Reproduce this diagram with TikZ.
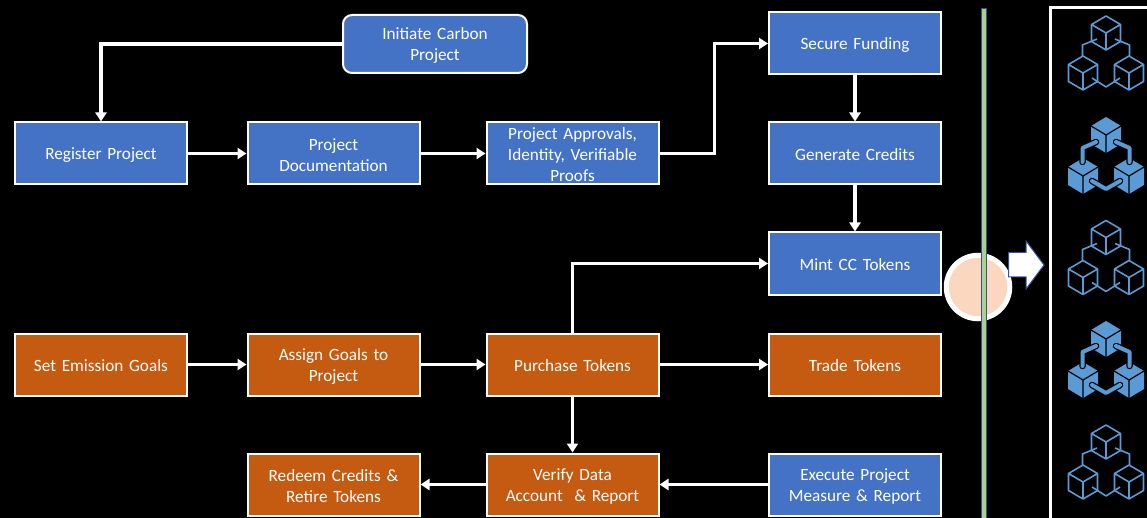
\documentclass[tikz,border=0pt]{standalone}
\usepackage{fontspec}
\setmainfont{Carlito}
\usetikzlibrary{arrows.meta}
\definecolor{boxblue}{HTML}{4472C4}
\definecolor{boxorange}{HTML}{C55A11}
\definecolor{iconblue}{HTML}{5B9BD5}
\definecolor{edgeblue}{HTML}{2F5597}
\definecolor{bargreen}{HTML}{A9D18E}
\definecolor{peach}{HTML}{FBD7C0}
\tikzset{
  x=1pt,y=-1pt,
  flowbox/.style={draw=white,line width=2pt,minimum width=172pt,minimum height=62pt,inner sep=0pt,
    align=center,text=white,font=\fontsize{17.2}{21}\selectfont,text width=170pt,
    execute at begin node={\lineskiplimit=-100pt\leavevmode\rule{0pt}{15pt}}},
  bluebox/.style={flowbox,fill=boxblue},
  orangebox/.style={flowbox,fill=boxorange},
  flow/.style={draw=white,line width=3.6pt,-{Triangle[length=9pt,width=11pt]}},
  cubeo/.pic={
    \draw[iconblue,line width=1.6pt,line join=round] (0,-17)--(14.5,-8.5)--(14.5,8.5)--(0,17)--(-14.5,8.5)--(-14.5,-8.5)--cycle
      (-14.5,-8.5)--(0,0)--(14.5,-8.5) (0,0)--(0,17);
  },
  cubef/.pic={
    \fill[iconblue] (0,-18)--(15,-9)--(15,9)--(0,18)--(-15,9)--(-15,-9)--cycle;
    \draw[black,line width=1.2pt,line join=round] (-15,-9)--(0,0)--(15,-9) (0,0)--(0,18);
  },
  iconoutline/.pic={
    \pic at (0,0) {cubeo};
    \pic at (-23,40) {cubeo};
    \pic at (23,40) {cubeo};
    \draw[iconblue,line width=1.6pt,line join=round]
      (-9,6)--(-23.5,12)--(-23.5,24)
      (9,6)--(23.5,12)--(23.5,24)
      (-14,45)--(0,54)--(14,45);
  },
  iconfilled/.pic={
    \pic at (0,0) {cubef};
    \pic at (-23,41) {cubef};
    \pic at (23,41) {cubef};
    \draw[black,line width=6.5pt,line cap=round,line join=round]
      (-10,7)--(-23.5,13)--(-23.5,27)
      (10,7)--(23.5,13)--(23.5,27)
      (-14,46)--(0,54)--(14,46);
    \draw[iconblue,line width=4pt,line cap=round,line join=round]
      (-10,7)--(-23.5,13)--(-23.5,27)
      (10,7)--(23.5,13)--(23.5,27)
      (-14,46)--(0,54)--(14,46);
  }
}
\begin{document}
\begin{tikzpicture}
\useasboundingbox (0,0) rectangle (1147,518);
\fill[black] (0,0) rectangle (1147,518);

\node[bluebox,rounded corners=9pt,minimum width=184pt,minimum height=58pt,text width=150pt] (init) at (435,44) {Initiate Carbon\\Project};
\node[bluebox] (reg) at (101,153.5) {Register Project};
\node[bluebox] (doc) at (333.5,153.5) {Project\\Documentation};
\node[bluebox] (appr) at (572.5,153.5) {Project Approvals,\\Identity, Verifiable\\Proofs};
\node[bluebox] (fund) at (855,43.5) {Secure Funding};
\node[bluebox] (gen) at (855,153.5) {Generate Credits};
\node[bluebox] (mint) at (855,263.5) {Mint CC Tokens};
\node[orangebox] (goals) at (101,364.5) {Set Emission Goals};
\node[orangebox] (assign) at (333.5,364.5) {Assign Goals to\\Project};
\node[orangebox] (buy) at (572.5,364.5) {Purchase Tokens};
\node[orangebox] (trade) at (855,364.5) {Trade Tokens};
\node[orangebox] (redeem) at (333.5,484.5) {Redeem Credits \&\\Retire Tokens};
\node[orangebox] (verify) at (572.5,484.5) {Verify Data\\Account~ \& Report};
\node[bluebox] (exec) at (855,484.5) {Execute Project\\Measure \& Report};

\draw[flow] (init.west) -| (reg.north);
\draw[flow] (reg) -- (doc);
\draw[flow] (doc) -- (appr);
\draw[flow] (appr.east) -- ++(55,0) |- (fund.west);
\draw[flow] (fund) -- (gen);
\draw[flow] (gen) -- (mint);
\draw[flow] (goals) -- (assign);
\draw[flow] (assign) -- (buy);
\draw[flow] (buy) -- (trade);
\draw[flow] (buy.north) |- (mint.west);
\draw[flow] (buy) -- (verify);
\draw[flow] (exec) -- (verify);
\draw[flow] (verify) -- (redeem);

\node[circle,draw=white,fill=peach,line width=5pt,minimum size=63.5pt,inner sep=0pt] (hub) at (978,287) {};
\fill[draw=edgeblue,fill=bargreen,line width=0.9pt] (981.7,8) rectangle (986.5,530);
\draw[edgeblue,fill=white,line width=1pt,line join=miter]
  (1008.5,252.5) -- (1026,252.5) -- (1026,241) -- (1044,265) -- (1026,289) -- (1026,277) -- (1008.5,277) -- cycle;

\draw[white,line width=3pt] (1160,7.5) -- (1050.5,7.5) -- (1050.5,530);

\pic at (1106,33) {iconoutline};
\pic at (1106,135) {iconfilled};
\pic at (1106,237.5) {iconoutline};
\pic at (1106,339) {iconfilled};
\pic at (1106,442) {iconoutline};
\end{tikzpicture}
\end{document}
